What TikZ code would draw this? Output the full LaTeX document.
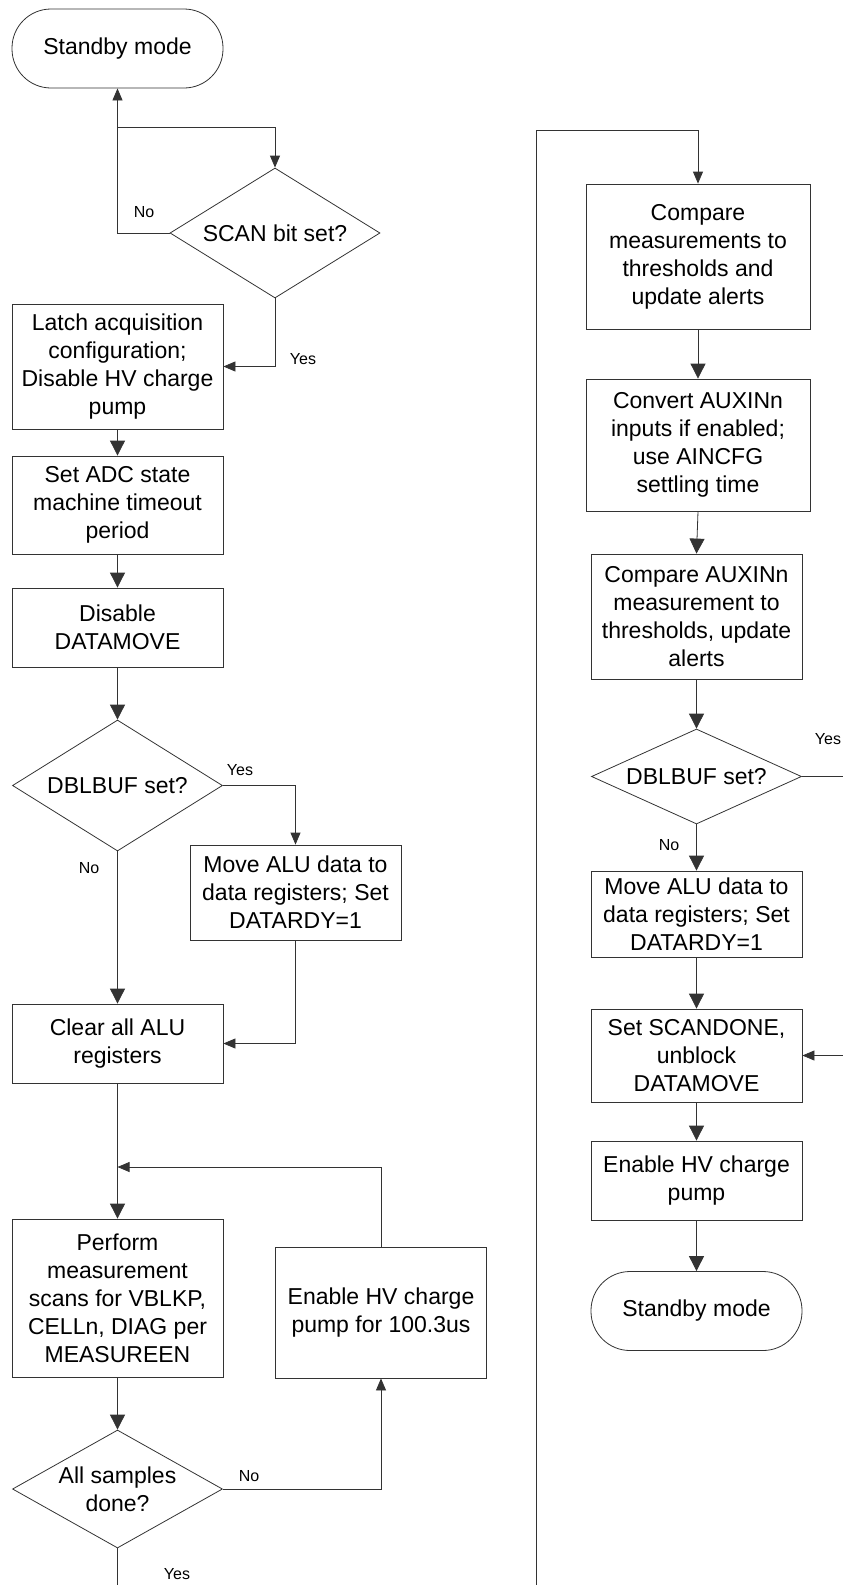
\documentclass[tikz,border=0pt]{standalone}
\usepackage{fontspec}
\setmainfont{Liberation Sans}
\usetikzlibrary{shapes.geometric,arrows.meta}

\begin{document}
\begin{tikzpicture}[x=1pt,y=1pt,
  every node/.style={inner sep=0pt},
  proc/.style={draw=black!80,line width=0.8pt,minimum width=211pt,align=center,font=\fontsize{23}{28}\selectfont},
  term/.style={proc,rounded corners=39pt},
  test/.style={draw=black!80,line width=0.8pt,diamond,minimum width=210pt,align=center,font=\fontsize{23}{28}\selectfont},
  lbl/.style={font=\fontsize{16}{18}\selectfont},
  wire/.style={draw=black!80,line width=0.8pt},
  arrbig/.style={wire,-{Triangle[length=15pt,width=15pt]}},
  arrsmall/.style={wire,-{Triangle[length=12pt,width=10pt]}}]
\useasboundingbox (0,0) rectangle (843,-1585);

\node[term,minimum height=79pt] (sb1) at (117.5,-48.5) {Standby mode};
\node[test,aspect=1.62,minimum height=130pt] (scan) at (275,-233) {SCAN bit set?};
\node[proc,minimum height=125pt] (latch) at (117.5,-366.5) {Latch acquisition\\configuration;\\Disable HV charge\\pump};
\node[proc,minimum height=98pt] (adc) at (117.5,-505) {Set ADC state\\machine timeout\\period};
\node[proc,minimum height=79pt] (dis) at (117.5,-627.5) {Disable\\DATAMOVE};
\node[test,aspect=1.6,minimum height=131pt] (dbl1) at (117.5,-785.5) {DBLBUF set?};
\node[proc,minimum height=95pt] (move1) at (295.5,-892.5) {Move ALU data to\\data registers; Set\\DATARDY=1};
\node[proc,minimum height=79pt] (clr) at (117.5,-1043.5) {Clear all ALU\\registers};
\node[proc,minimum height=158pt] (perf) at (117.5,-1298) {Perform\\measurement\\scans for VBLKP,\\CELLn, DIAG per\\MEASUREEN};
\node[proc,minimum height=131pt] (hv1) at (381,-1312.5) {Enable HV charge\\pump for 100.3us};
\node[test,aspect=1.78,minimum height=118pt] (alls) at (117.5,-1489) {All samples\\done?};

\node[proc,minimum width=224pt,minimum height=145pt] (cmp) at (698,-256.5) {Compare\\measurements to\\thresholds and\\update alerts};
\node[proc,minimum width=224pt,minimum height=132pt] (conv) at (698,-445) {Convert AUXINn\\inputs if enabled;\\use AINCFG\\settling time};
\node[proc,minimum height=125pt] (caux) at (696.5,-616.5) {Compare AUXINn\\measurement to\\thresholds, update\\alerts};
\node[test,aspect=2.2,minimum height=95pt] (dbl2) at (696.5,-776.5) {DBLBUF set?};
\node[proc,minimum height=86pt] (move2) at (696.5,-914) {Move ALU data to\\data registers; Set\\DATARDY=1};
\node[proc,minimum height=93pt] (done) at (696.5,-1055.5) {Set SCANDONE,\\unblock\\DATAMOVE};
\node[proc,minimum height=79pt] (hv2) at (696.5,-1180.5) {Enable HV charge\\pump};
\node[term,minimum height=79pt] (sb2) at (696.5,-1311) {Standby mode};

\coordinate (j1) at (117.5,-127);
\coordinate (j2) at (117.5,-1167);
\coordinate (cut1) at (117.5,-1585);
\coordinate (cut2) at (536,-1585);
\coordinate (loop) at (536,-130);
\coordinate (edge1) at (843,-776.5);
\coordinate (edge2) at (843,-1055.5);

\draw[arrsmall] (scan.west) -| (sb1.south);
\draw[arrsmall] (j1) -| (scan.north);
\draw[arrsmall] (scan.south) |- (latch.east);
\draw[arrbig] (latch) -- (adc);
\draw[arrbig] (adc) -- (dis);
\draw[arrbig] (dis) -- (dbl1);
\draw[arrsmall] (dbl1.east) -| (move1.north);
\draw[arrbig] (dbl1) -- (clr);
\draw[arrsmall] (move1.south) |- (clr.east);
\draw[arrbig] (clr) -- (perf);
\draw[arrsmall] (hv1.north) |- (j2);
\draw[arrbig] (perf) -- (alls);
\draw[arrsmall] (alls.east) -| (hv1.south);
\draw[wire] (alls.south) -- (cut1);

\draw[arrsmall] (cut2) -- (loop) -| (cmp.north);
\draw[arrbig] (cmp) -- (conv);
\draw[arrbig] (conv.south) -- (caux.north);
\draw[arrbig] (caux) -- (dbl2);
\draw[wire] (dbl2.east) -- (edge1);
\draw[arrbig] (dbl2) -- (move2);
\draw[arrbig] (move2) -- (done);
\draw[arrsmall] (edge2) -- (done.east);
\draw[arrbig] (done) -- (hv2);
\draw[arrbig] (hv2) -- (sb2);

\node[lbl] (no1) at (144,-212) {No};
\node[lbl] (yes1) at (303,-359) {Yes};
\node[lbl] (yes2) at (240,-770) {Yes};
\node[lbl] (no2) at (89,-868) {No};
\node[lbl] (no3) at (249,-1476) {No};
\node[lbl] (yes3) at (177,-1574) {Yes};
\node[lbl] (yes4) at (828,-739) {Yes};
\node[lbl] (no4) at (669,-845) {No};
\end{tikzpicture}
\end{document}
